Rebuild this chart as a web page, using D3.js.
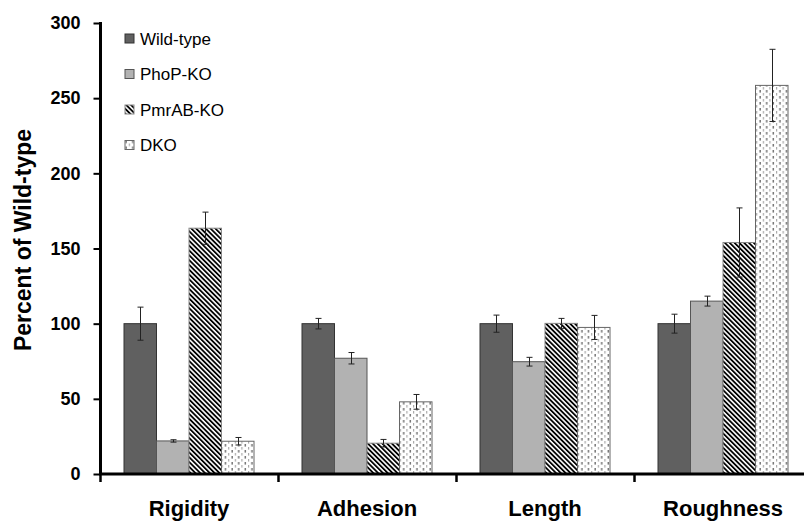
<!DOCTYPE html>
<meta charset="utf-8">
<script src="https://d3js.org/d3.v7.min.js"></script>
<style>
  body { margin: 0; background: #fff; }
  text { font-family: "Liberation Sans", Arial, sans-serif; }
</style>
<svg id="chart" width="804" height="521"></svg>
<script>
// data
var categories = ["Rigidity", "Adhesion", "Length", "Roughness"];
var seriesNames = ["Wild-type", "PhoP-KO", "PmrAB-KO", "DKO"];
var wildType = [100, 100, 100, 100];
var phopKO   = [22, 77, 74.7, 115];
var pmrabKO  = [163.5, 20.5, 100.2, 154];
var dko      = [21.8, 48, 97.5, 258.5];
var wildTypeErr = [11, 3.5, 5.7, 6.3];
var phopErr     = [0.8, 3.8, 2.9, 3.3];
var pmrabErr    = [10.7, 2.5, 3.3, 23];
var dkoErr      = [2.5, 4.9, 8, 24];
var yTicks = [0, 50, 100, 150, 200, 250, 300];

var values = [wildType, phopKO, pmrabKO, dko];
var errors = [wildTypeErr, phopErr, pmrabErr, dkoErr];

var svg = d3.select("#chart");

// patterns
var defs = svg.append("defs");
var stripes = defs.append("pattern")
  .attr("id", "stripes")
  .attr("patternUnits", "userSpaceOnUse")
  .attr("width", 3.4).attr("height", 3.4)
  .attr("patternTransform", "rotate(-45)");
stripes.append("rect").attr("width", 3.4).attr("height", 3.4).attr("fill", "#fff");
stripes.append("rect").attr("width", 1.8).attr("height", 3.4).attr("fill", "#000");

var dots = defs.append("pattern")
  .attr("id", "dashes")
  .attr("patternUnits", "userSpaceOnUse")
  .attr("width", 6.6).attr("height", 6);
dots.append("rect").attr("width", 6.6).attr("height", 6).attr("fill", "#fff");
dots.append("rect").attr("x", 0.6).attr("y", 0).attr("width", 1).attr("height", 2.6).attr("fill", "#333");
dots.append("rect").attr("x", 3.9).attr("y", 3).attr("width", 1).attr("height", 2.6).attr("fill", "#999");

var fills = ["#606060", "#b2b2b2", "url(#stripes)", "url(#dashes)"];
var strokes = ["#333", "#555", "#888", "#666"];

// scales
var x = d3.scaleBand().domain(categories).range([100, 812]);
var xs = d3.scaleBand().domain(seriesNames).range([24, 154]);
var y = d3.scaleLinear().domain([0, 300]).range([474, 23]);

// bars
var rows = [];
categories.forEach(function(c, i) {
  seriesNames.forEach(function(s, j) {
    rows.push({cat: c, s: s, j: j, v: values[j][i], e: errors[j][i]});
  });
});

var g = svg.append("g");
g.selectAll("rect.bar")
  .data(rows)
  .enter()
  .append("rect")
    .attr("class", "bar")
    .attr("x", function(d) { return x(d.cat) + xs(d.s); })
    .attr("y", function(d) { return y(d.v); })
    .attr("width", xs.bandwidth())
    .attr("height", function(d) { return y(0) - y(d.v); })
    .attr("fill", function(d) { return fills[d.j]; })
    .attr("stroke", function(d) { return strokes[d.j]; })
    .attr("stroke-width", 1);

// error bars
var eb = g.selectAll("g.err")
  .data(rows)
  .enter()
  .append("g")
    .attr("class", "err")
    .attr("stroke", "#222")
    .attr("stroke-width", 1);
function cx(d) { return Math.round(x(d.cat) + xs(d.s) + xs.bandwidth() / 2) + 0.5; }
eb.append("line")
  .attr("x1", cx).attr("x2", cx)
  .attr("y1", function(d) { return y(d.v + d.e); })
  .attr("y2", function(d) { return y(d.v - d.e); });
eb.append("line")
  .attr("x1", function(d) { return cx(d) - 3; }).attr("x2", function(d) { return cx(d) + 3; })
  .attr("y1", function(d) { return y(d.v + d.e); }).attr("y2", function(d) { return y(d.v + d.e); });
eb.append("line")
  .attr("x1", function(d) { return cx(d) - 3; }).attr("x2", function(d) { return cx(d) + 3; })
  .attr("y1", function(d) { return y(d.v - d.e); }).attr("y2", function(d) { return y(d.v - d.e); });

// y axis
var yAxis = svg.append("g")
  .attr("transform", "translate(100.5,0)")
  .call(d3.axisLeft(y).tickValues(yTicks).tickSize(7).tickSizeOuter(0));
yAxis.select(".domain").attr("stroke", "#000").attr("stroke-width", 3)
  .attr("d", "M0," + (y(300) - 1) + "V" + y(0));
yAxis.selectAll(".tick line").attr("stroke", "#000").attr("stroke-width", 2);
yAxis.selectAll(".tick text")
  .attr("x", -20)
  .style("font-size", "18px").style("font-weight", "bold").attr("fill", "#000");

// x axis
var xAxis = svg.append("g")
  .attr("transform", "translate(0,474)");
xAxis.append("line")
  .attr("x1", 99).attr("x2", 812)
  .attr("stroke", "#000").attr("stroke-width", 3);
xAxis.selectAll("line.tk")
  .data(categories)
  .enter()
  .append("line")
    .attr("class", "tk")
    .attr("x1", function(d) { return x(d) + 0.5; })
    .attr("x2", function(d) { return x(d) + 0.5; })
    .attr("y1", 0).attr("y2", 8)
    .attr("stroke", "#000").attr("stroke-width", 2.5);
xAxis.selectAll("text")
  .data(categories)
  .enter()
  .append("text")
    .attr("x", function(d) { return x(d) + x.bandwidth() / 2; })
    .attr("y", 41.5)
    .attr("text-anchor", "middle")
    .style("font-size", "22px").style("font-weight", "bold")
    .text(function(d) { return d; });

// y title
svg.append("text")
  .attr("transform", "translate(31,240) rotate(-90)")
  .attr("text-anchor", "middle")
  .style("font-size", "23px").style("font-weight", "bold")
  .text("Percent of Wild-type");

// legend
var legend = svg.append("g").attr("transform", "translate(125,34)");
var li = legend.selectAll("g")
  .data(seriesNames)
  .enter()
  .append("g")
    .attr("transform", function(d, i) { return "translate(0," + (i * 35.5) + ")"; });
li.append("rect")
  .attr("width", 9).attr("height", 9)
  .attr("fill", function(d, i) { return fills[i]; })
  .attr("stroke", function(d, i) { return strokes[i]; });
li.append("text")
  .attr("x", 15).attr("y", 10.5)
  .style("font-size", "17px")
  .text(function(d) { return d; });
</script>
